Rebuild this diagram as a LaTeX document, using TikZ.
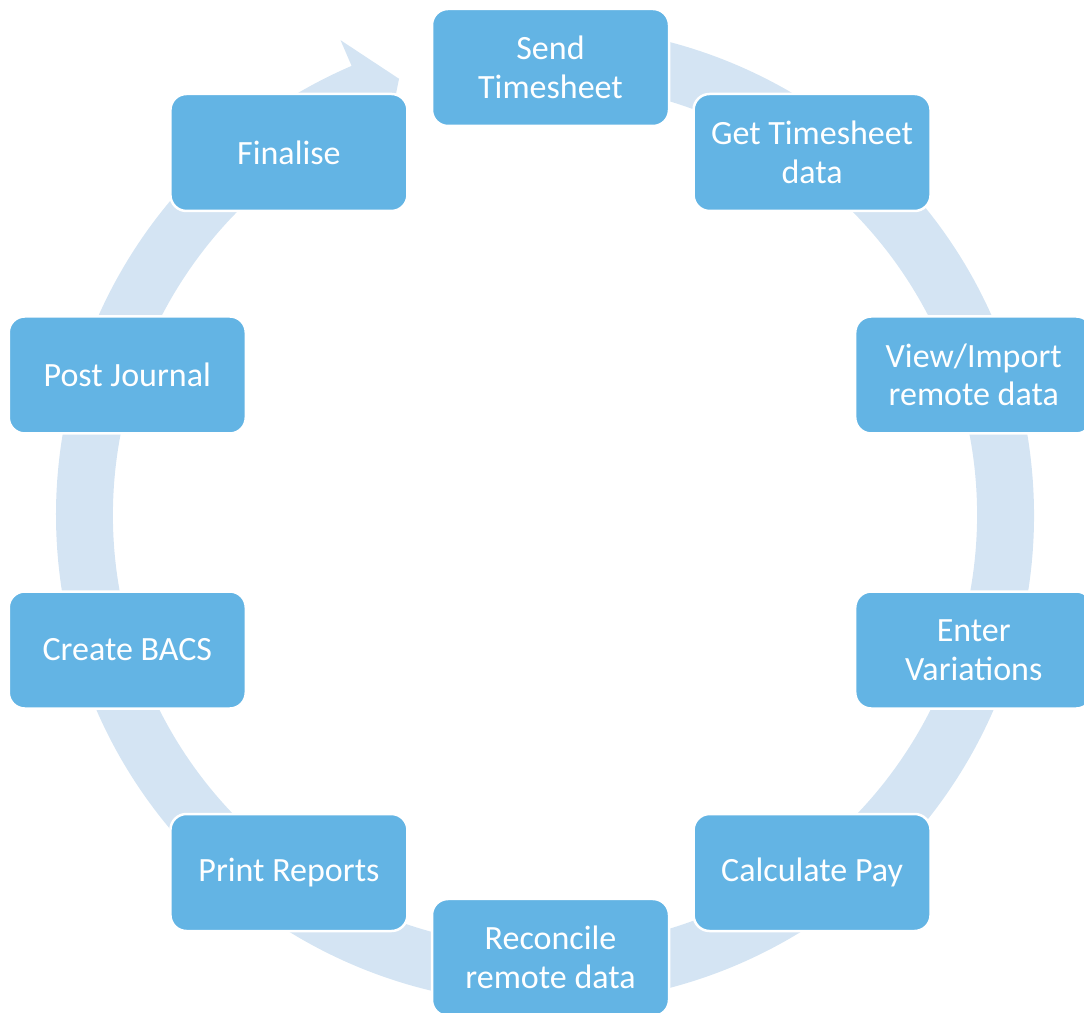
\documentclass[tikz,border=0pt]{standalone}
\usepackage{fontspec}
\setmainfont{Carlito}
\definecolor{boxblue}{RGB}{99,180,228}
\definecolor{bandblue}{RGB}{212,228,243}
\tikzset{
  stagebox/.style={rectangle, rounded corners=16pt, fill=boxblue, draw=white, line width=2.5pt,
    minimum width=237pt, minimum height=117pt, inner sep=0pt, align=center, text=white,
    font=\fontsize{34}{38.5}\selectfont},
  bandfill/.style={fill=bandblue}
}
\begin{document}
\begin{tikzpicture}[x=1pt,y=1pt]
\path[use as bounding box, clip] (0,0) rectangle (1084,1012);
\begin{scope}[shift={(545,497)}]
\fill[bandfill] (95:489pt) arc[start angle=95, end angle=-246.7, radius=489pt]
  -- (113.3:517pt) -- (108.5:460pt) -- (113.3:403pt) -- (113.3:432pt)
  arc[start angle=-246.7, end angle=95, radius=432pt] -- cycle;
\end{scope}
\begin{scope}[shift={(550.5,499.5)}]
\node[stagebox] (n1) at (90:445pt) {Send\\Timesheet};
\node[stagebox] (n2) at (54:445pt) {Get Timesheet\\data};
\node[stagebox] (n3) at (18:445pt) {View/Import\\remote data};
\node[stagebox] (n4) at (-18:445pt) {Enter\\Variations};
\node[stagebox] (n5) at (-54:445pt) {Calculate Pay};
\node[stagebox] (n6) at (-90:445pt) {Reconcile\\remote data};
\node[stagebox] (n7) at (-126:445pt) {Print Reports};
\node[stagebox] (n8) at (-162:445pt) {Create BACS};
\node[stagebox] (n9) at (162:445pt) {Post Journal};
\node[stagebox] (n10) at (126:445pt) {Finalise};
\end{scope}
\end{tikzpicture}
\end{document}
